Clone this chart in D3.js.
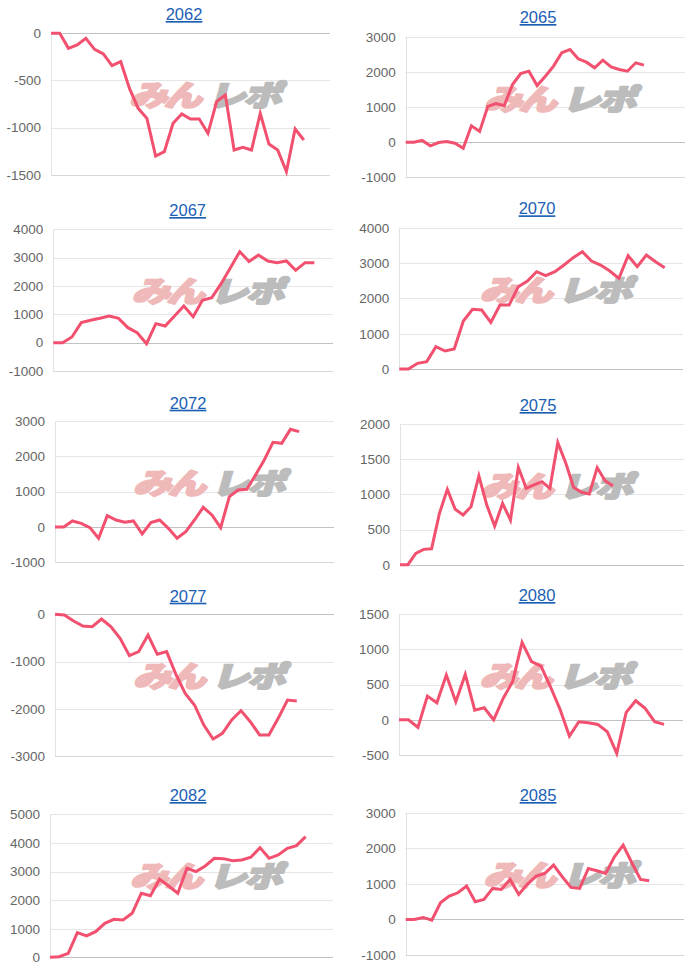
<!DOCTYPE html>
<html>
<head>
<meta charset="utf-8">
<script src="https://cdn.jsdelivr.net/npm/d3@7"></script>
<style>
  html, body { margin: 0; padding: 0; background: #fff; }
  svg { display: block; }
</style>
</head>
<body>
<svg id="chart" width="700" height="972"></svg>
<script>
// ---- data ----
const titles = ["2062", "2065", "2067", "2070", "2072", "2075", "2077", "2080", "2082", "2085"];
const slotCounts = [33, 35, 31, 32, 33, 37, 31, 31, 32, 33];

const s2062 = [0, 0, -159, -124, -53, -170, -219, -343, -301, -584, -796, -902, -1302, -1256, -955, -856, -909, -909, -1061, -725, -655, -1238, -1210, -1238, -849, -1175, -1238, -1468, -1015, -1132];
const s2065 = [0, 0, 50, -105, -10, 19, -29, -171, 467, 305, 1019, 1095, 1038, 1638, 1952, 2019, 1610, 1876, 2162, 2543, 2638, 2371, 2276, 2114, 2333, 2143, 2067, 2019, 2257, 2190];
const s2067 = [0, 0, 200, 706, 788, 859, 941, 859, 529, 353, -35, 671, 588, 941, 1294, 918, 1494, 1588, 2082, 2647, 3212, 2859, 3094, 2882, 2824, 2882, 2553, 2824, 2824];
const s2070 = [0, 0, 160, 208, 632, 509, 566, 1358, 1689, 1670, 1321, 1811, 1811, 2330, 2491, 2755, 2642, 2755, 2943, 3151, 3321, 3057, 2943, 2774, 2566, 3208, 2896, 3226, 3038, 2868];
const s2072 = [0, 0, 170, 104, -19, -321, 321, 198, 132, 170, -198, 123, 198, -38, -321, -132, 198, 557, 340, -19, 858, 1047, 1066, 1472, 1896, 2396, 2368, 2764, 2698];
const s2075 = [0, 0, 161, 218, 227, 730, 1071, 787, 706, 825, 1261, 848, 550, 872, 635, 1384, 1085, 1133, 1180, 1085, 1735, 1450, 1100, 1029, 1005, 1379, 1194, 1118];
const s2077 = [0, -14, -141, -247, -261, -99, -261, -508, -875, -791, -438, -847, -791, -1271, -1673, -1920, -2344, -2640, -2520, -2238, -2040, -2273, -2555, -2555, -2202, -1814, -1835];
const s2080 = [0, 0, -109, 336, 241, 634, 255, 643, 137, 170, 0, 303, 539, 1097, 823, 761, 468, 151, -232, -28, -43, -66, -170, -478, 104, 270, 161, -28, -66];
const s2082 = [0, 20, 140, 862, 746, 897, 1189, 1329, 1305, 1538, 2238, 2156, 2727, 2494, 2238, 3112, 2995, 3194, 3462, 3450, 3380, 3403, 3497, 3834, 3462, 3578, 3811, 3904, 4219];
const s2085 = [0, 0, 56, -19, 468, 656, 749, 937, 497, 562, 871, 843, 1124, 703, 993, 1218, 1293, 1527, 1199, 899, 871, 1433, 1368, 1293, 1761, 2089, 1593, 1124, 1087];

const ticks2062 = [0, -500, -1000, -1500];
const ticks2065 = [3000, 2000, 1000, 0, -1000];
const ticks2067 = [4000, 3000, 2000, 1000, 0, -1000];
const ticks2070 = [4000, 3000, 2000, 1000, 0];
const ticks2072 = [3000, 2000, 1000, 0, -1000];
const ticks2075 = [2000, 1500, 1000, 500, 0];
const ticks2077 = [0, -1000, -2000, -3000];
const ticks2080 = [1500, 1000, 500, 0, -500];
const ticks2082 = [5000, 4000, 3000, 2000, 1000, 0];
const ticks2085 = [3000, 2000, 1000, 0, -1000];

const seriesList = [s2062, s2065, s2067, s2070, s2072, s2075, s2077, s2080, s2082, s2085];
const tickList = [ticks2062, ticks2065, ticks2067, ticks2070, ticks2072, ticks2075, ticks2077, ticks2080, ticks2082, ticks2085];

// ---- layout (plot frames) ----
const frames = [
  {l: 51,    r: 330, t: 33.3,  b: 174.7, tx: 184,   ty: 14},
  {l: 405.7, r: 685, t: 36.7,  b: 177.3, tx: 538,   ty: 17},
  {l: 53.3,  r: 333, t: 229.3, b: 371,   tx: 187.7, ty: 210},
  {l: 399.3, r: 683, t: 227.7, b: 369,   tx: 537,   ty: 208.3},
  {l: 55,    r: 334, t: 421,   b: 562.3, tx: 188,   ty: 402.7},
  {l: 400,   r: 684, t: 424,   b: 564.7, tx: 538,   ty: 405},
  {l: 55,    r: 334, t: 614.3, b: 756,   tx: 188,   ty: 595.7},
  {l: 399,   r: 683, t: 614,   b: 755,   tx: 537,   ty: 595},
  {l: 50,    r: 333, t: 814.3, b: 957.3, tx: 188,   ty: 795},
  {l: 405.7, r: 684, t: 812.7, b: 955,   tx: 538,   ty: 795}
];

const svg = d3.select("#chart");
const FONT = "'Liberation Sans', Arial, Helvetica, sans-serif";

frames.forEach((f, k) => {
  const data = seriesList[k];
  const tks = tickList[k];
  const n = slotCounts[k];
  const g = svg.append("g");

  const x = d3.scalePoint().domain(d3.range(n)).range([f.l, f.r]);
  const y = d3.scaleLinear().domain(d3.extent(tks)).range([f.b, f.t]);

  // title
  g.append("text")
    .attr("x", f.tx).attr("y", f.ty + 6)
    .attr("text-anchor", "middle")
    .attr("font-family", FONT).attr("font-size", 16.5)
    .attr("fill", "#1b5fb5")
    .attr("text-decoration", "underline")
    .text(titles[k]);

  // gridlines
  const yMin = d3.min(tks);
  g.selectAll("line.grid").data(tks).join("line")
    .attr("x1", f.l).attr("x2", f.r)
    .attr("y1", d => Math.round(y(d)) + 0.5).attr("y2", d => Math.round(y(d)) + 0.5)
    .attr("stroke", d => d === 0 ? "#c2c2c2" : (d === yMin ? "#d6d6d6" : "#e6e6e6"))
    .attr("stroke-width", 1);

  // left axis line
  g.append("line")
    .attr("x1", Math.round(f.l) + 0.5).attr("x2", Math.round(f.l) + 0.5)
    .attr("y1", f.t).attr("y2", f.b)
    .attr("stroke", "#e2e2e2");

  // y tick labels
  const axis = d3.axisLeft(y).tickValues(tks).tickSize(0).tickPadding(10).tickFormat(d => String(d));
  const ag = g.append("g").attr("transform", `translate(${f.l},0)`).call(axis);
  ag.select(".domain").remove();
  ag.selectAll("text")
    .attr("font-family", FONT).attr("font-size", 13.5)
    .attr("fill", "#666");

  // watermark
  const wx = (f.l + f.r) / 2 + 15, wy = f.t + 61;
  const wm = g.append("g").attr("transform", `translate(${wx},${wy}) skewX(-16) scale(1.12,0.85)`);
  wm.append("text")
    .attr("x", -3).attr("y", 14)
    .attr("text-anchor", "end")
    .attr("font-family", "'Noto Sans CJK JP', sans-serif")
    .attr("font-weight", 900).attr("font-size", 34)
    .attr("letter-spacing", -3)
    .attr("fill", "#efb9b9").attr("stroke", "#efb9b9").attr("stroke-width", 2.5)
    .attr("stroke-linejoin", "round")
    .text("みん");
  wm.append("text")
    .attr("x", 5).attr("y", 14)
    .attr("text-anchor", "start")
    .attr("font-family", "'Noto Sans CJK JP', sans-serif")
    .attr("font-weight", 900).attr("font-size", 34)
    .attr("letter-spacing", -2)
    .attr("fill", "#bcbcbc").attr("stroke", "#bcbcbc").attr("stroke-width", 2.5)
    .attr("stroke-linejoin", "round")
    .text("レポ");

  // line
  const line = d3.line().x((d, i) => x(i)).y(d => y(d));
  g.append("path")
    .datum(data)
    .attr("d", line)
    .attr("fill", "none")
    .attr("stroke", "#f2506f")
    .attr("stroke-width", 3)
    .attr("stroke-linejoin", "miter");
});
</script>
</body>
</html>
